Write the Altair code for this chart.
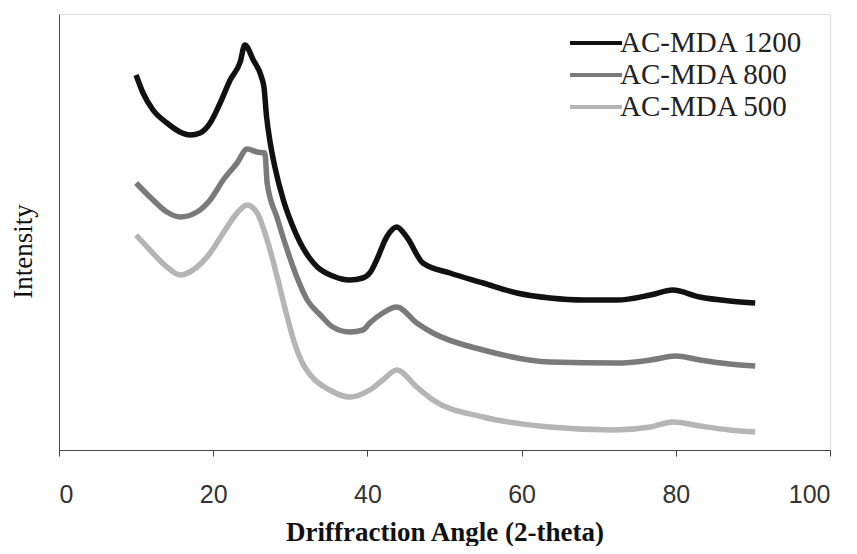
import altair as alt
import pandas as pd

# Series (angle in degrees 2-theta, intensity in arbitrary units)
angle_1200 = [10.0, 10.9, 12.2, 14.0, 15.7, 17.0, 18.3, 19.6, 20.9, 22.2, 23.5, 24.1,
              25.2, 26.3, 26.6, 26.9, 27.4, 28.0, 29.1, 30.2, 31.3, 32.4, 33.5, 35.5,
              37.7, 39.4, 40.4, 41.2, 42.5, 43.8, 45.1, 47.2, 50.7, 55.0, 59.4, 63.7,
              68.0, 72.4, 76.7, 79.6, 83.1, 87.0, 90.3]
int_1200 = [375, 357, 340, 327, 318, 315, 317, 327, 347, 370, 388, 405,
            390, 372, 362, 335, 307, 283, 250, 226, 207, 193, 183, 174,
            170, 172, 178, 190, 213, 223, 213, 187, 177, 167, 157, 152,
            150, 150, 155, 160, 153, 149, 147]

angle_800 = [10.0, 11.8, 14.0, 15.7, 17.9, 19.6, 21.3, 23.1, 24.4, 25.7, 26.7, 27.0,
             28.3, 29.6, 30.9, 32.2, 33.9, 35.5, 37.7, 39.4, 40.3, 42.0, 43.8, 46.4,
             48.5, 55.0, 63.7, 72.4, 76.7, 80.0, 83.1, 87.0, 90.3]
int_800 = [267, 253, 238, 233, 238, 250, 270, 287, 301, 298, 297, 267,
           232, 200, 172, 150, 135, 123, 118, 120, 127, 137, 143, 127,
           117, 100, 88, 87, 90, 94, 90, 86, 84]

angle_500 = [10.0, 11.8, 14.0, 15.7, 17.9, 19.6, 21.3, 23.1, 24.4, 25.7, 27.0, 28.3,
             29.6, 30.5, 31.5, 32.6, 35.1, 37.7, 40.3, 42.0, 43.8, 46.4, 48.5, 55.0,
             63.7, 71.9, 76.7, 79.6, 83.1, 87.0, 90.3]
int_500 = [215, 200, 183, 175, 183, 197, 217, 237, 245, 237, 210, 173,
           133, 108, 88, 75, 60, 53, 60, 70, 80, 63, 50, 33,
           23, 20, 23, 28, 24, 20, 18]

series_names = ["AC-MDA 1200", "AC-MDA 800", "AC-MDA 500"]
series_colors = ["#111111", "#7a7a7a", "#b5b5b5"]
x_ticks = [0, 20, 40, 60, 80, 100]

rows = []
for name, xs, ys in zip(series_names, [angle_1200, angle_800, angle_500],
                        [int_1200, int_800, int_500]):
    for a, v in zip(xs, ys):
        rows.append({"angle": a, "intensity": v, "sample": name})
df = pd.DataFrame(rows)

chart = alt.Chart(df).mark_line(strokeWidth=5.5, interpolate="monotone").encode(
    x=alt.X("angle:Q",
            scale=alt.Scale(domain=[0, 100], nice=False, zero=False),
            axis=alt.Axis(values=x_ticks, title="Driffraction Angle (2-theta)", grid=False,
                          labelFont="Liberation Sans", labelFontSize=25, labelColor="#333333",
                          labelPadding=26, tickSize=6, tickColor="#444444",
                          domainColor="#444444",
                          titleFont="Liberation Serif", titleFontSize=27,
                          titleFontWeight="bold", titleColor="#111111", titleY=90,
                          titleBaseline="alphabetic")),
    y=alt.Y("intensity:Q",
            scale=alt.Scale(domain=[0, 436], nice=False),
            axis=alt.Axis(labels=False, ticks=False, grid=False, title="Intensity",
                          domainColor="#444444",
                          titleFont="Liberation Serif", titleFontSize=27,
                          titleFontWeight="normal", titleColor="#111111",
                          titlePadding=22, titleY=237)),
    color=alt.Color("sample:N",
                    scale=alt.Scale(domain=series_names, range=series_colors),
                    sort=series_names,
                    legend=alt.Legend(title=None, orient="none", legendX=522, legendY=14,
                                      symbolType="M-2,0H2", symbolSize=676,
                                      symbolStrokeWidth=4, labelFont="Liberation Serif",
                                      labelFontSize=29, labelColor="#222222",
                                      labelLimit=400, labelOffset=9, rowPadding=2,
                                      padding=0)),
).properties(
    width=771, height=436,
    autosize=alt.AutoSizeParams(type="none"),
    padding={"left": 51, "top": 6, "right": 19, "bottom": 96},
).configure_view(
    stroke="#444444", strokeWidth=1
).configure(background="white")

chart.save("out.html", embed_options={"renderer": "svg", "actions": False})
